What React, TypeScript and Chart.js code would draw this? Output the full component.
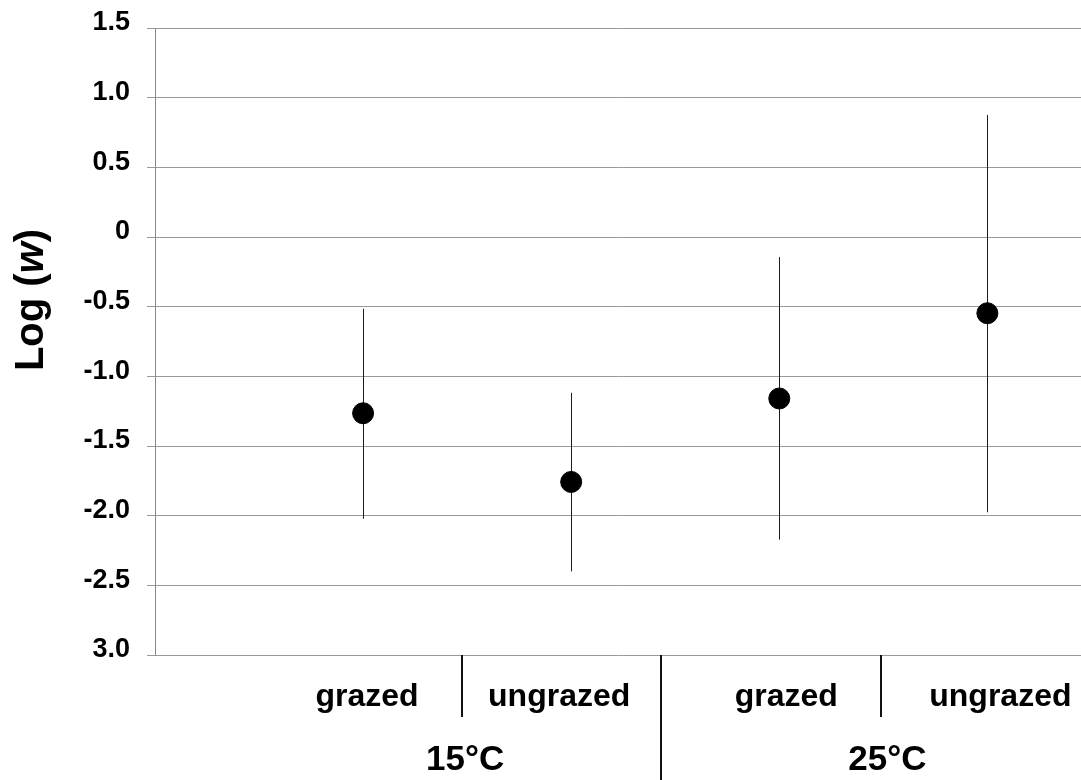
import React, { useEffect, useRef } from 'react';
import { Chart, registerables } from 'chart.js';

Chart.register(...registerables);

// ---- data ----
const categories = ['grazed', 'ungrazed', 'grazed', 'ungrazed'];
const temperatureGroups = ['15°C', '25°C'];
const meanLogW = [-1.265, -1.758, -1.159, -0.547];
const upperLogW = [-0.515, -1.118, -0.144, 0.876];
const lowerLogW = [-2.022, -2.4, -2.172, -1.976];
const yTickValues = [-3, -2.5, -2, -1.5, -1, -0.5, 0, 0.5, 1, 1.5];
const yTickLabels = ['3.0', '-2.5', '-2.0', '-1.5', '-1.0', '-0.5', '0', '0.5', '1.0', '1.5'];

const FONT = '"Liberation Sans", Arial, Helvetica, sans-serif';

// label placement tweaks (pixels) relative to category positions
const catLabelShift = [4, -12, 7, 13];
const groupLabelShift = [-2, 4];
const dividerShift = [-5, -14, -2];

const overlayPlugin = {
  id: 'overlay',
  beforeDatasetsDraw(chart: any) {
    const { ctx, scales } = chart;
    const x = scales.x;
    const y = scales.y;
    ctx.save();
    ctx.strokeStyle = '#1a1a1a';
    ctx.lineWidth = 1;
    meanLogW.forEach((_, i) => {
      const px = Math.round(x.getPixelForValue(i + 1)) + 0.5;
      ctx.beginPath();
      ctx.moveTo(px, y.getPixelForValue(upperLogW[i]));
      ctx.lineTo(px, y.getPixelForValue(lowerLogW[i]));
      ctx.stroke();
    });
    ctx.restore();
  },
  afterDraw(chart: any) {
    const { ctx, scales, chartArea } = chart;
    const x = scales.x;
    const bottom = chartArea.bottom;
    ctx.save();
    ctx.fillStyle = '#000';

    // category labels
    ctx.font = `bold 32px ${FONT}`;
    ctx.textAlign = 'center';
    ctx.textBaseline = 'alphabetic';
    categories.forEach((c, i) => {
      ctx.fillText(c, x.getPixelForValue(i + 1) + catLabelShift[i], bottom + 51);
    });

    // group labels
    ctx.font = `bold 35px ${FONT}`;
    temperatureGroups.forEach((g, i) => {
      ctx.fillText(g, x.getPixelForValue(1.5 + 2 * i) + groupLabelShift[i], bottom + 115);
    });

    // dividers
    ctx.strokeStyle = '#111';
    ctx.lineWidth = 2;
    [1.5, 2.5, 3.5].forEach((v, i) => {
      const px = Math.round(x.getPixelForValue(v) + dividerShift[i]);
      const len = i === 1 ? 125 : 62;
      ctx.beginPath();
      ctx.moveTo(px, bottom);
      ctx.lineTo(px, bottom + len);
      ctx.stroke();
    });

    // y axis title: Log (w) with italic w
    const parts: [string, string][] = [
      ['Log (', `bold 40px ${FONT}`],
      ['w', `italic bold 40px ${FONT}`],
      [')', `bold 40px ${FONT}`],
    ];
    let total = 0;
    parts.forEach(([t, f]) => {
      ctx.font = f;
      total += ctx.measureText(t).width;
    });
    ctx.translate(43, 300);
    ctx.rotate(-Math.PI / 2);
    ctx.textAlign = 'left';
    let cx = -total / 2;
    parts.forEach(([t, f]) => {
      ctx.font = f;
      ctx.fillText(t, cx, 0);
      cx += ctx.measureText(t).width;
    });
    ctx.restore();
  },
};

export default function App() {
  const ref = useRef<HTMLCanvasElement | null>(null);

  useEffect(() => {
    if (!ref.current) return;
    const chart = new Chart(ref.current, {
      type: 'scatter',
      data: {
        datasets: [
          {
            label: 'Log (w)',
            data: meanLogW.map((v, i) => ({ x: i + 1, y: v })),
            backgroundColor: '#000',
            borderColor: '#000',
            pointRadius: 10.5,
            pointHoverRadius: 10.5,
            showLine: false,
          },
        ],
      },
      options: {
        animation: false,
        responsive: false,
        devicePixelRatio: 1,
        layout: { autoPadding: false, padding: { top: 28, bottom: 125, left: 0, right: 0 } },
        plugins: {
          legend: { display: false },
          tooltip: { enabled: false },
          title: { display: false },
        },
        scales: {
          x: {
            type: 'linear',
            min: 0,
            max: 4.45,
            display: false,
          },
          y: {
            type: 'linear',
            min: -3,
            max: 1.5,
            afterFit: (scale: any) => {
              scale.width = 155;
              scale.paddingTop = 0;
              scale.paddingBottom = 0;
            },
            afterBuildTicks: (scale: any) => {
              scale.ticks = yTickValues.map((v) => ({ value: v }));
            },
            ticks: {
              color: '#000',
              font: { family: FONT, size: 27, weight: 'bold' },
              padding: 17,
              labelOffset: -5,
              callback: (value: any) => {
                const idx = yTickValues.findIndex((v) => Math.abs(v - Number(value)) < 1e-6);
                return idx >= 0 ? yTickLabels[idx] : '';
              },
            },
            grid: {
              color: '#999',
              lineWidth: 1,
              drawTicks: true,
              tickLength: 8,
            },
            border: { display: true, color: '#888', width: 1 },
          },
        },
      },
      plugins: [overlayPlugin],
    });
    return () => chart.destroy();
  }, []);

  return (
    <div style={{ position: 'absolute', left: 0, top: 0, width: 1081, height: 780, background: '#fff' }}>
      <canvas ref={ref} width={1081} height={780} style={{ width: 1081, height: 780 }} />
    </div>
  );
}
